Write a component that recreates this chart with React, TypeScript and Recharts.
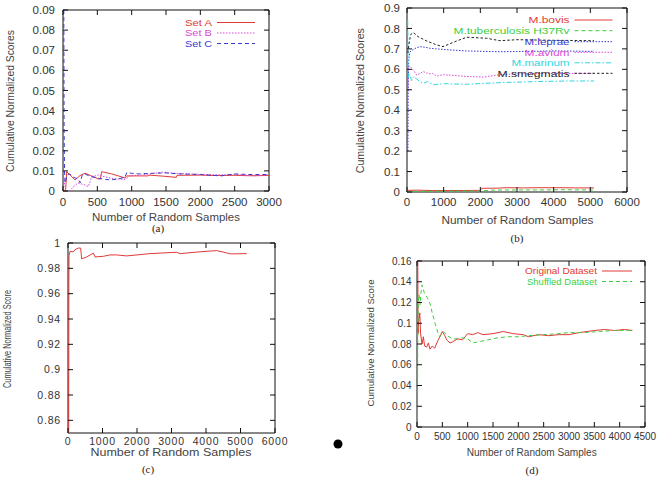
import { LineChart, Line, XAxis, YAxis, ReferenceArea } from "recharts";

type Pt = [number, number];

// (a) random sets
const setA: Pt[] = [
  [0, 0], [20, 0], [40, 0.001], [53, 0.0096], [102, 0.008], [175, 0.0055], [248, 0.0077],
  [320, 0.0088], [418, 0.0075], [514, 0.006], [545, 0.006], [563, 0.0096], [709, 0.0085],
  [903, 0.0065], [927, 0.0075], [1242, 0.0075], [1250, 0.0079], [1450, 0.0074], [1650, 0.0068],
  [1660, 0.0078], [2000, 0.0079], [2200, 0.0077], [2500, 0.0078], [2700, 0.0076], [3000, 0.0077],
];
const setB: Pt[] = [
  [0, 0.01], [20, 0.004], [40, 0], [100, 0], [146, 0.002], [219, 0.004], [320, 0.003],
  [369, 0.0022], [418, 0.007], [514, 0.008], [612, 0.007], [757, 0.006], [903, 0.0058],
  [976, 0.0075], [1145, 0.008], [1340, 0.0088], [1437, 0.0093], [1630, 0.0088], [1825, 0.0085],
  [2310, 0.008], [2504, 0.0082], [2795, 0.0075], [3000, 0.008],
];
const setC: Pt[] = [
  [12, 0.09], [16, 0.03], [22, 0.01], [30, 0.004], [60, 0.008], [100, 0.0085], [140, 0.007],
  [180, 0.0065], [220, 0.006], [250, 0.004], [280, 0.008], [320, 0.0085], [400, 0.0072],
  [500, 0.0065], [600, 0.0058], [700, 0.0055], [800, 0.006], [900, 0.0068], [930, 0.0092],
  [1000, 0.0088], [1100, 0.0085], [1300, 0.0088], [1500, 0.009], [1700, 0.0085], [2000, 0.0082],
  [2300, 0.0075], [2500, 0.0085], [2700, 0.0082], [3000, 0.0082],
];

// (b) mycobacteria
const bovis: Pt[] = [
  [0, 0], [30, 0.008], [300, 0.009], [700, 0.007], [1200, 0.007], [2000, 0.008], [2040, 0.018],
  [2500, 0.019], [2700, 0.021], [3200, 0.02], [3600, 0.021], [4200, 0.021], [4600, 0.02], [5100, 0.02],
];
const tuberculosis: Pt[] = [
  [0, 0], [300, 0.003], [1000, 0.004], [2000, 0.005], [2300, 0.009], [2700, 0.01], [3500, 0.01],
  [4200, 0.011], [5100, 0.01],
];
const leprae: Pt[] = [
  [25, 0.2], [35, 0.55], [50, 0.65], [80, 0.685], [150, 0.695], [250, 0.705], [355, 0.711],
  [500, 0.708], [627, 0.703], [800, 0.7], [1173, 0.695], [1600, 0.69], [2536, 0.686], [3000, 0.687],
  [4000, 0.69], [5100, 0.688],
];
const avium: Pt[] = [
  [25, 0.5], [32, 0.6], [45, 0.62], [80, 0.615], [170, 0.597], [264, 0.572], [350, 0.58],
  [445, 0.589], [540, 0.582], [627, 0.578], [700, 0.58], [809, 0.567], [991, 0.574], [1300, 0.57],
  [1628, 0.565], [2082, 0.562], [2536, 0.574], [3000, 0.578], [4000, 0.58], [5100, 0.58],
];
const marinum: Pt[] = [
  [20, 0.84], [28, 0.62], [40, 0.56], [70, 0.575], [127, 0.545], [180, 0.565], [250, 0.555],
  [350, 0.54], [445, 0.532], [560, 0.54], [718, 0.524], [991, 0.53], [1300, 0.528], [1628, 0.527],
  [2536, 0.535], [3500, 0.54], [4354, 0.543], [5100, 0.543],
];
const smegmatis: Pt[] = [
  [25, 0.68], [50, 0.72], [100, 0.77], [173, 0.78], [300, 0.76], [536, 0.739], [800, 0.72],
  [983, 0.711], [1300, 0.735], [1628, 0.757], [2173, 0.752], [2536, 0.74], [3000, 0.745],
  [4000, 0.742], [5100, 0.74],
];

// (c) single run
const runC: Pt[] = [
  [20, 0.85], [25, 0.97], [30, 0.99], [58, 0.9934], [155, 0.993], [203, 0.9947], [300, 0.996],
  [367, 0.996], [396, 0.9875], [541, 0.989], [734, 0.992], [783, 0.989], [1024, 0.9895],
  [1217, 0.9906], [1410, 0.9906], [1700, 0.9898], [2377, 0.9916], [3150, 0.9927], [3250, 0.9916],
  [3800, 0.993], [4310, 0.994], [4600, 0.9922], [4700, 0.9914], [5180, 0.9916],
];

// (d) original vs shuffled
const original: Pt[] = [
  [15, 0.16], [22, 0.09], [30, 0.1], [42, 0.105], [55, 0.11], [70, 0.09], [100, 0.08], [125, 0.087],
  [150, 0.078], [191, 0.077], [224, 0.081], [257, 0.075], [300, 0.078], [350, 0.076], [400, 0.082],
  [450, 0.087], [500, 0.092], [550, 0.088], [586, 0.084], [651, 0.081], [700, 0.082], [800, 0.085],
  [900, 0.084], [1000, 0.09], [1100, 0.089], [1200, 0.091], [1300, 0.089], [1500, 0.09],
  [1700, 0.092], [1900, 0.09], [2100, 0.089], [2200, 0.087], [2400, 0.089], [2600, 0.088],
  [2800, 0.089], [3000, 0.089], [3200, 0.091], [3500, 0.093], [3700, 0.094], [3900, 0.093],
  [4100, 0.094], [4250, 0.093],
];
const shuffled: Pt[] = [
  [10, 0], [15, 0.09], [25, 0.12], [40, 0.128], [60, 0.118], [80, 0.13], [100, 0.137], [150, 0.128],
  [200, 0.125], [257, 0.119], [300, 0.11], [355, 0.1], [420, 0.09], [454, 0.087], [520, 0.092],
  [600, 0.088], [700, 0.085], [800, 0.085], [900, 0.086], [1000, 0.085], [1100, 0.081],
  [1200, 0.082], [1400, 0.084], [1600, 0.086], [1800, 0.087], [2000, 0.087], [2200, 0.088],
  [2500, 0.089], [2800, 0.09], [3000, 0.091], [3300, 0.091], [3600, 0.092], [3900, 0.093],
  [4250, 0.093],
];

const ticksA_x = [0, 500, 1000, 1500, 2000, 2500, 3000];
const ticksA_y = [0, 0.01, 0.02, 0.03, 0.04, 0.05, 0.06, 0.07, 0.08, 0.09];
const ticksB_x = [0, 1000, 2000, 3000, 4000, 5000, 6000];
const ticksB_y = [0, 0.1, 0.2, 0.3, 0.4, 0.5, 0.6, 0.7, 0.8, 0.9];
const ticksC_x = [0, 1000, 2000, 3000, 4000, 5000, 6000];
const ticksC_y = [0.86, 0.88, 0.9, 0.92, 0.94, 0.96, 0.98, 1];
const ticksD_x = [0, 500, 1000, 1500, 2000, 2500, 3000, 3500, 4000, 4500];
const ticksD_y = [0, 0.02, 0.04, 0.06, 0.08, 0.1, 0.12, 0.14, 0.16];

const RED = "#e23a36";
const GREEN = "#3ccf3c";
const BLUE = "#3a3ad0";
const MAGENTA = "#d84ad8";
const CYAN = "#2fd6e0";
const BLACK = "#222";

const DASHED = "4 3";
const DOTTED = "1.5 1.5";
const DASHDOT = "5 2 1.5 2";

const SANS = "'Liberation Sans', Arial, sans-serif";
const TICK = 5;
const XAXIS_H = 20;
const YAXIS_W = 30;

type Series = { name: string; pts: Pt[]; color: string; dash?: string };

type PanelProps = {
  left: number;
  top: number;
  width: number;
  height: number;
  box: { l: number; r: number; t: number; b: number };
  xDomain: [number, number];
  xTicks: number[];
  yDomain: [number, number];
  yTicks: number[];
  series: Series[];
  fontSize: number;
  xDy: number;
  yGap: number;
  spacing?: number;
};

const fmt = (v: number) => String(+v.toFixed(3));

function Panel(p: PanelProps) {
  const plotW = p.box.r - p.box.l;
  const plotH = p.box.b - p.box.t;
  const margin = {
    top: p.box.t - p.top,
    left: p.box.l - p.left - YAXIS_W,
    right: p.left + p.width - p.box.r,
    bottom: p.top + p.height - p.box.b - XAXIS_H,
  };

  const XTick = (props: any) => {
    const { x, y, payload } = props;
    return (
      <g>
        <line x1={x} x2={x} y1={y} y2={y - TICK} stroke="#111" />
        <line x1={x} x2={x} y1={y - plotH} y2={y - plotH + TICK} stroke="#111" />
        <text x={x} y={y + p.xDy} textAnchor="middle" fontSize={p.fontSize} fill="#333"
          fontFamily={SANS} letterSpacing={p.spacing ?? 0}>
          {fmt(payload.value)}
        </text>
      </g>
    );
  };

  const YTick = (props: any) => {
    const { x, y, payload } = props;
    return (
      <g>
        <line x1={x} x2={x + TICK} y1={y} y2={y} stroke="#111" />
        <line x1={x + plotW} x2={x + plotW - TICK} y1={y} y2={y} stroke="#111" />
        <text x={x - p.yGap} y={y + p.fontSize * 0.36} textAnchor="end" fontSize={p.fontSize}
          fill="#333" fontFamily={SANS} letterSpacing={p.spacing ?? 0}>
          {fmt(payload.value)}
        </text>
      </g>
    );
  };

  return (
    <div style={{ position: "absolute", left: p.left, top: p.top }}>
      <LineChart width={p.width} height={p.height} margin={margin}>
        <XAxis dataKey="x" type="number" domain={p.xDomain} ticks={p.xTicks} interval={0}
          allowDataOverflow height={XAXIS_H} tickSize={0} tickMargin={0} axisLine={false}
          tickLine={false} tick={XTick} />
        <YAxis type="number" domain={p.yDomain} ticks={p.yTicks} interval={0} allowDataOverflow
          width={YAXIS_W} tickSize={0} tickMargin={0} axisLine={false} tickLine={false}
          tick={YTick} />
        <ReferenceArea x1={p.xDomain[0]} x2={p.xDomain[1]} y1={p.yDomain[0]} y2={p.yDomain[1]}
          fill="none" fillOpacity={0} stroke="#111" strokeWidth={1} />
        {p.series.map((s) => (
          <Line key={s.name} data={s.pts.map(([x, y]) => ({ x, y }))} dataKey="y" name={s.name}
            type="linear" stroke={s.color} strokeWidth={1} strokeDasharray={s.dash}
            dot={false} activeDot={false} isAnimationActive={false} />
        ))}
      </LineChart>
    </div>
  );
}

const seriesA: Series[] = [
  { name: "Set A", pts: setA, color: RED },
  { name: "Set B", pts: setB, color: MAGENTA, dash: DOTTED },
  { name: "Set C", pts: setC, color: BLUE, dash: DASHED },
];
const seriesB: Series[] = [
  { name: "M.bovis", pts: bovis, color: RED },
  { name: "M.tuberculosis H37Rv", pts: tuberculosis, color: GREEN, dash: DASHED },
  { name: "M.leprae", pts: leprae, color: BLUE, dash: DOTTED },
  { name: "M.avium", pts: avium, color: MAGENTA, dash: DOTTED },
  { name: "M.marinum", pts: marinum, color: CYAN, dash: DASHDOT },
  { name: "M.smegmatis", pts: smegmatis, color: BLACK, dash: "2.5 2" },
];
const seriesC: Series[] = [{ name: "Score", pts: runC, color: RED }];
const seriesD: Series[] = [
  { name: "Original Dataset", pts: original, color: RED },
  { name: "Shuffled Dataset", pts: shuffled, color: GREEN, dash: DASHED },
];

function LegendBlock({ items, xEnd, x2, ys, fontSize, len }: {
  items: Series[]; xEnd: number; x2: number; ys: number[]; fontSize: number; len?: number[];
}) {
  return (
    <g>
      {items.map((s, i) => (
        <g key={s.name}>
          <text x={xEnd} y={ys[i] + fontSize * 0.36} textAnchor="end" fontSize={fontSize}
            fill={s.color} fontFamily={SANS} textLength={len?.[i]}
            lengthAdjust={len ? "spacingAndGlyphs" : undefined}>
            {s.name}
          </text>
          <line x1={xEnd + 5} x2={x2} y1={ys[i]} y2={ys[i]} stroke={s.color}
            strokeDasharray={s.dash} />
        </g>
      ))}
    </g>
  );
}

function Title({ x, y, text, len, size, rotate }: {
  x: number; y: number; text: string; len: number; size: number; rotate?: boolean;
}) {
  return (
    <text x={x} y={y} textAnchor="middle" fontSize={size} fill="#444" fontFamily={SANS}
      textLength={len} lengthAdjust="spacingAndGlyphs"
      transform={rotate ? `rotate(-90 ${x} ${y})` : undefined}>
      {text}
    </text>
  );
}

export default function App() {
  return (
    <div style={{ position: "absolute", left: 0, top: 0, width: 661, height: 480, background: "#fff" }}>
      <Panel left={0} top={0} width={330} height={240} box={{ l: 63, r: 269, t: 10, b: 191 }}
        xDomain={[0, 3000]} xTicks={ticksA_x} yDomain={[0, 0.09]} yTicks={ticksA_y}
        series={seriesA} fontSize={11.5} xDy={14.5} yGap={8} />
      <Panel left={330} top={0} width={331} height={240} box={{ l: 407, r: 627, t: 8, b: 192 }}
        xDomain={[0, 6000]} xTicks={ticksB_x} yDomain={[0, 0.9]} yTicks={ticksB_y}
        series={seriesB} fontSize={11.5} xDy={14} yGap={7} />
      <Panel left={0} top={228} width={330} height={252} box={{ l: 68, r: 275, t: 243, b: 433 }}
        xDomain={[0, 6000]} xTicks={ticksC_x} yDomain={[0.85, 1]} yTicks={ticksC_y}
        series={seriesC} fontSize={10.5} xDy={12} yGap={7} spacing={0.8} />
      <Panel left={330} top={240} width={331} height={240} box={{ l: 417, r: 645, t: 261, b: 427 }}
        xDomain={[0, 4500]} xTicks={ticksD_x} yDomain={[0, 0.16]} yTicks={ticksD_y}
        series={seriesD} fontSize={10} xDy={13} yGap={5.5} />

      <svg width={661} height={480} style={{ position: "absolute", left: 0, top: 0, pointerEvents: "none" }}>
        <Title x={166} y={221} text="Number of Random Samples" len={148} size={11.5} />
        <Title x={13.5} y={101} text="Cumulative Normalized Scores" len={142} size={10.5} rotate />
        <Title x={517.5} y={223.5} text="Number of Random Samples" len={152} size={11.8} />
        <Title x={364} y={100.7} text="Cumulative Normalized Scores" len={145} size={10.6} rotate />
        <Title x={171} y={456} text="Number of Random Samples" len={161} size={11.5} />
        <Title x={11.3} y={339} text="Cumulative Normalized Score" len={98} size={10.5} rotate />
        <Title x={531.7} y={455.5} text="Number of Random Samples" len={130} size={10} />
        <Title x={373.5} y={343} text="Cumulative Normalized Score" len={127} size={9.8} rotate />

        <LegendBlock items={seriesA} xEnd={212} x2={255} ys={[22.5, 33, 43.5]} fontSize={9.5}
          len={[27, 27, 27]} />
        <LegendBlock items={seriesB} xEnd={569.5} x2={612.5}
          ys={[20, 30.7, 41.7, 52.3, 62.8, 73.3]} fontSize={9.5}
          len={[41, 116, 45, 45, 58, 72]} />
        <LegendBlock items={seriesD} xEnd={597} x2={632} ys={[271, 281.5]} fontSize={9}
          len={[72, 70]} />

        <g fontFamily="'Liberation Serif', serif" fontSize={11} fill="#222" textAnchor="middle">
          <text x={158} y={232}>(a)</text>
          <text x={517} y={242}>(b)</text>
          <text x={148} y={473}>(c)</text>
          <text x={532} y={474}>(d)</text>
        </g>
        <circle cx={338} cy={444} r={4.5} fill="#000" />
      </svg>
    </div>
  );
}
